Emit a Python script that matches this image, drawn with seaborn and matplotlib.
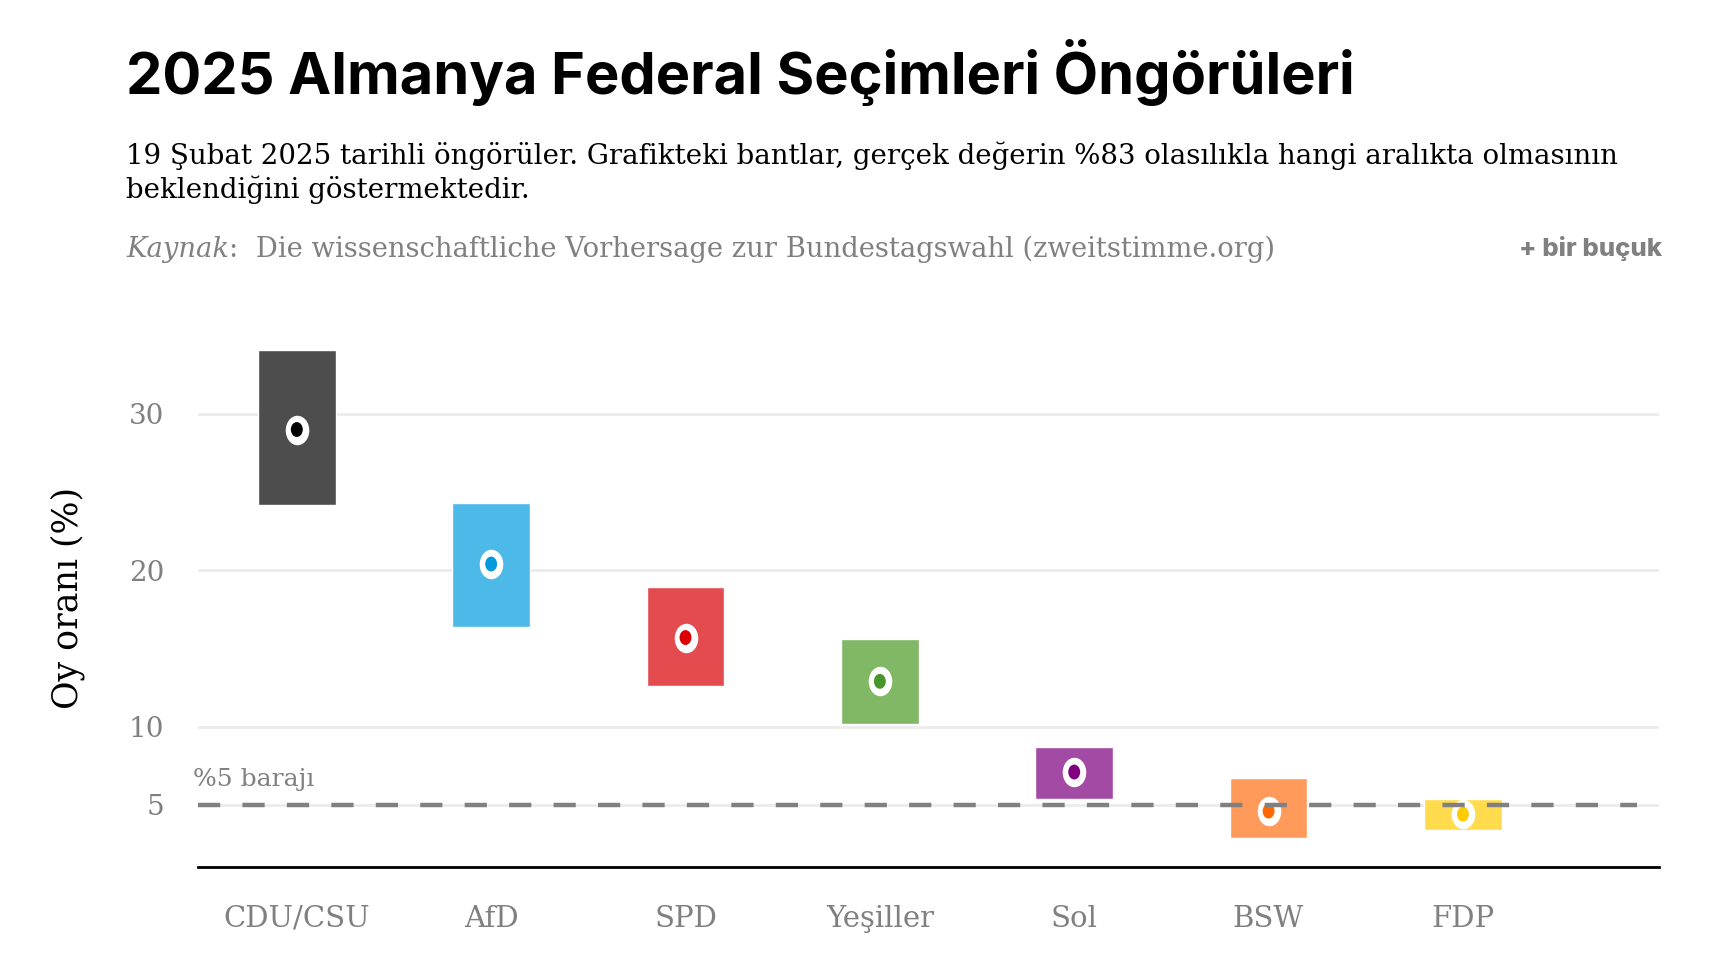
import matplotlib
matplotlib.use('Agg')
import matplotlib.pyplot as plt
import matplotlib.transforms as mtransforms
from matplotlib.path import Path
import seaborn as sns
import pandas as pd

sns.set_theme(style="white")

# data
parties = ['CDU/CSU', 'AfD', 'SPD', 'Yeşiller', 'Sol', 'BSW', 'FDP']
low = [24.2, 16.4, 12.6, 10.2, 5.4, 2.9, 3.4]
high = [34.1, 24.3, 18.9, 15.6, 8.7, 6.7, 5.4]
point = [29.0, 20.4, 15.7, 12.9, 7.1, 4.6, 4.4]
yticks = [5, 10, 20, 30]

BAND_COLORS = ['#4d4d4d', '#4db9e8', '#e44b4f', '#80b866', '#a34aa4', '#ff9a5b', '#ffdb4d']
DOT_COLORS = ['#000000', '#0099dd', '#dd0000', '#46962b', '#800080', '#ff6a00', '#ffcc00']

SERIF = 'DejaVu Serif'
SANS_BOLD = 'Inter'
GREY = '#808080'

# slightly tall oval marker, like the original
circ = Path.unit_circle()
OVAL = Path(circ.vertices * [0.8, 1.0], circ.codes)

df = pd.DataFrame({'parti': parties, 'low': low, 'high': high, 'point': point})

fig = plt.figure(figsize=(17.13, 9.73), dpi=100)
ax = fig.add_axes([0.1154, 0.1085, 0.8532, 0.5465])

# bands
ax.bar(df['parti'], df['high'] - df['low'], bottom=df['low'], width=0.4,
       color=BAND_COLORS, zorder=2)

# estimate markers: white ring + coloured centre
sns.scatterplot(data=df, x='parti', y='point', ax=ax, color='white', s=450,
                marker=OVAL, linewidth=0, zorder=3, legend=False)
sns.scatterplot(data=df, x='parti', y='point', ax=ax, hue='parti',
                palette=DOT_COLORS, s=115, marker=OVAL, linewidth=0, zorder=4,
                legend=False)

# 5% threshold
ax.axhline(5, xmin=0, xmax=0.985, color=GREY, lw=3.2, dashes=(5, 5), zorder=5)
trans = mtransforms.blended_transform_factory(ax.transAxes, ax.transData)
ax.text(-0.003, 6.2, '%5 barajı', transform=trans, family=SERIF,
        fontsize=18, color=GREY, ha='left', va='baseline')

ax.set_xlim(-0.51, 7.01)
ax.set_ylim(1, 35)
ax.set_yticks(yticks)
ax.set_yticklabels([str(t) for t in yticks])
ax.grid(axis='y', color='#ebebeb', lw=2, zorder=0)
ax.grid(axis='x', visible=False)
ax.set_axisbelow(True)

for s in ['top', 'right', 'left']:
    ax.spines[s].set_visible(False)
ax.spines['bottom'].set_color('black')
ax.spines['bottom'].set_linewidth(2)

ax.tick_params(axis='y', length=0, pad=24, labelsize=20, labelcolor=GREY)
ax.tick_params(axis='x', length=0, pad=27, labelsize=21, labelcolor=GREY)
for lab in ax.get_xticklabels() + ax.get_yticklabels():
    lab.set_family(SERIF)

ax.set_xlabel('')
ax.set_ylabel('')
fig.text(0.0397, 0.385, 'Oy oranı (%)', rotation=90, family=SERIF,
         fontsize=25, color='black', ha='center', va='center')

# header
fig.text(0.0737, 0.903, '2025 Almanya Federal Seçimleri Öngörüleri',
         family=SANS_BOLD, weight='bold', fontsize=41.6, color='black',
         ha='left', va='baseline')
fig.text(0.0737, 0.796,
         '19 Şubat 2025 tarihli öngörüler. Grafikteki bantlar, gerçek değerin %83 olasılıkla hangi aralıkta olmasının\nbeklendiğini göstermektedir.',
         family=SERIF, fontsize=19.9, color='black', ha='left', va='baseline',
         linespacing=1.28)
src = fig.text(0.0737, 0.736, 'Kaynak', family=SERIF, style='italic',
               fontsize=19.7, color=GREY, ha='left', va='baseline')
fig.canvas.draw()
bb = src.get_window_extent().transformed(fig.transFigure.inverted())
fig.text(bb.x1, 0.736, ':  Die wissenschaftliche Vorhersage zur Bundestagswahl (zweitstimme.org)',
         family=SERIF, fontsize=19.7, color=GREY, ha='left', va='baseline')
fig.text(0.9705, 0.737, '+ bir buçuk', family=SANS_BOLD, weight='heavy',
         fontsize=18.5, color=GREY, ha='right', va='baseline')

fig.savefig('out.png', dpi=100, facecolor='white')
